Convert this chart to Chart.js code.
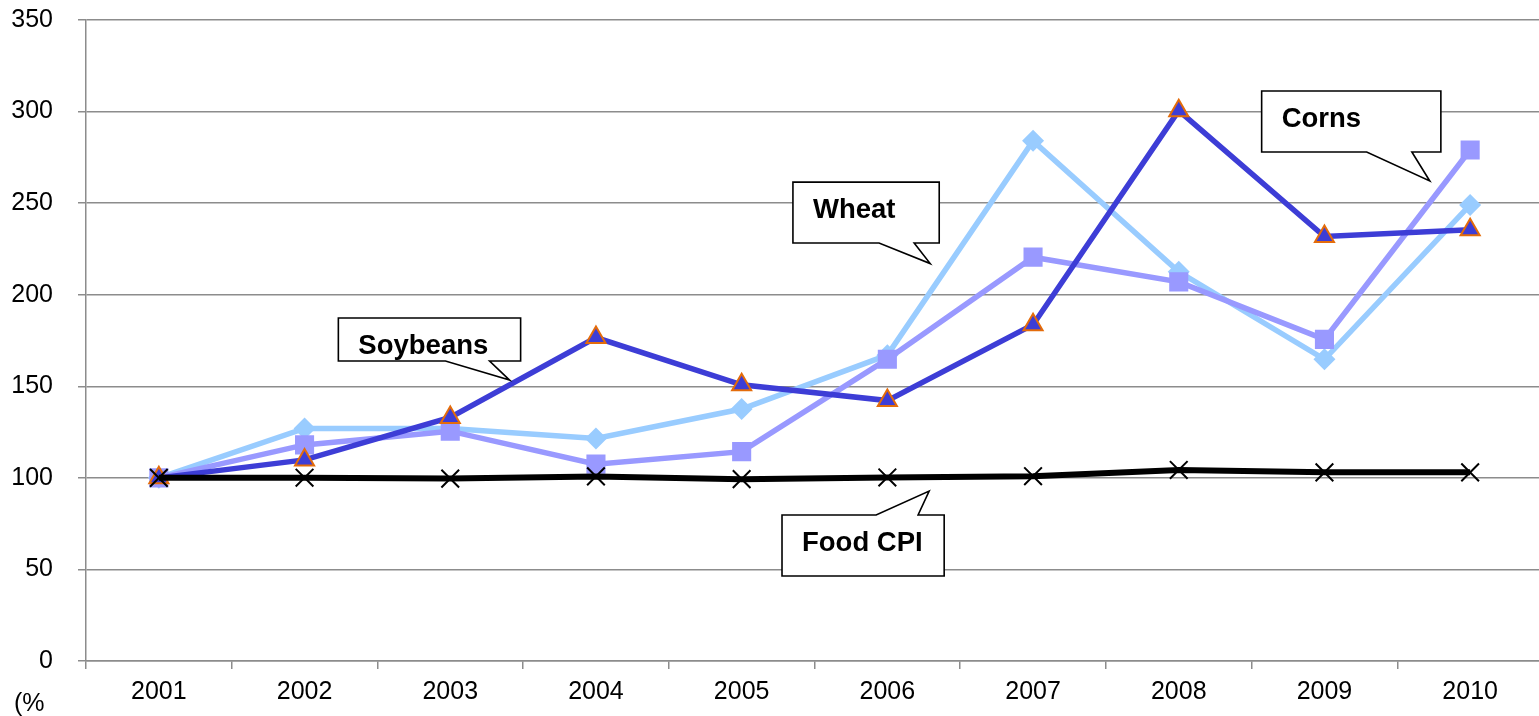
<!DOCTYPE html>
<html>
<head>
<meta charset="utf-8">
<script src="https://cdn.jsdelivr.net/npm/chart.js@4/dist/chart.umd.min.js"></script>
<style>
  html, body { margin: 0; padding: 0; background: #fff; overflow: hidden; }
  #wrap { width: 1539px; height: 716px; overflow: hidden; }
  canvas { display: block; }
</style>
</head>
<body>
<div id="wrap"><canvas id="c" width="1543" height="716"></canvas></div>
<script>
// Price indices, 2001 = 100
const years = ['2001', '2002', '2003', '2004', '2005', '2006', '2007', '2008', '2009', '2010'];
const wheat    = [100, 127, 127, 121.5, 137.6, 167, 284, 212.5, 164.7, 249];
const corns    = [100, 118, 125.5, 107.5, 114.3, 164.8, 220.5, 207, 175.6, 279];
const soybeans = [100, 109.8, 133, 176.6, 150.8, 142.2, 183.6, 300.5, 231.8, 235.5];
const foodCpi  = [100, 100.1, 99.6, 100.8, 99.3, 100.2, 100.9, 104.3, 103, 103];
const yTicks   = [0, 50, 100, 150, 200, 250, 300, 350];
const unitLabel = '(%';

// Speech-bubble labels: box corners and pointer in axis units (category index, value)
const callouts = [
  { text: 'Soybeans', box: [1.232, 187.3, 2.483, 163.8], base: [1.967, 2.270], tip: [2.407, 153.4] },
  { text: 'Wheat',    box: [4.352, 261.5, 5.356, 228.2], base: [4.943, 5.184], tip: [5.294, 217.0] },
  { text: 'Corns',    box: [7.569, 311.2, 8.799, 277.9], base: [8.290, 8.600], tip: [8.723, 262.1] },
  { text: 'Food CPI', box: [4.277, 79.7, 5.390, 46.4],   base: [4.923, 5.211], tip: [5.287, 92.8] }
];

const FONT = "'Liberation Sans', Arial, sans-serif";
const GRID = '#8c8c8c';

const calloutPlugin = {
  id: 'callouts',
  afterDatasetsDraw(chart) {
    const ctx = chart.ctx;
    const xs = chart.scales.x, ys = chart.scales.y;
    ctx.save();
    callouts.forEach(c => {
      const l = xs.getPixelForValue(c.box[0]);
      const t = ys.getPixelForValue(c.box[1]);
      const r = xs.getPixelForValue(c.box[2]);
      const b = ys.getPixelForValue(c.box[3]);
      const b1 = xs.getPixelForValue(c.base[0]);
      const b2 = xs.getPixelForValue(c.base[1]);
      const tx = xs.getPixelForValue(c.tip[0]);
      const ty = ys.getPixelForValue(c.tip[1]);
      ctx.beginPath();
      ctx.moveTo(l, t);
      if (ty < t) {
        // pointer leaves from the top edge
        ctx.lineTo(b1, t); ctx.lineTo(tx, ty); ctx.lineTo(b2, t);
        ctx.lineTo(r, t); ctx.lineTo(r, b); ctx.lineTo(l, b);
      } else {
        // pointer leaves from the bottom edge
        ctx.lineTo(r, t); ctx.lineTo(r, b);
        ctx.lineTo(b2, b); ctx.lineTo(tx, ty); ctx.lineTo(b1, b);
        ctx.lineTo(l, b);
      }
      ctx.closePath();
      ctx.fillStyle = '#ffffff';
      ctx.fill();
      ctx.lineWidth = 1.6;
      ctx.strokeStyle = '#000000';
      ctx.lineJoin = 'miter';
      ctx.stroke();
      ctx.fillStyle = '#000000';
      ctx.font = 'bold 27.5px ' + FONT;
      ctx.textAlign = 'left';
      ctx.textBaseline = 'alphabetic';
      ctx.fillText(c.text, l + 20, t + 36);
    });
    // unit label under the value axis
    ctx.font = '25px ' + FONT;
    ctx.fillStyle = '#000000';
    ctx.textAlign = 'left';
    ctx.textBaseline = 'alphabetic';
    ctx.fillText(unitLabel, 14, 711);
    ctx.restore();
  }
};

new Chart(document.getElementById('c'), {
  type: 'line',
  data: {
    labels: years,
    datasets: [
      {
        label: 'Food CPI', data: foodCpi,
        borderColor: '#000000', borderWidth: 6,
        pointStyle: 'crossRot', pointRadius: 12.5, pointBorderColor: '#000000',
        pointBorderWidth: 2, pointBackgroundColor: '#000000'
      },
      {
        label: 'Soybeans', data: soybeans,
        borderColor: '#3d3dd6', borderWidth: 5.5,
        pointStyle: 'triangle', pointRadius: 11, pointBackgroundColor: '#3d3dd6',
        pointBorderColor: '#e46c0a', pointBorderWidth: 2
      },
      {
        label: 'Corns', data: corns,
        borderColor: '#9999ff', borderWidth: 5.5,
        pointStyle: 'rect', pointRadius: 13.5, pointBackgroundColor: '#9999ff',
        pointBorderColor: '#9999ff', pointBorderWidth: 0
      },
      {
        label: 'Wheat', data: wheat,
        borderColor: '#99ccff', borderWidth: 5.5,
        pointStyle: 'rectRot', pointRadius: 11, pointBackgroundColor: '#99ccff',
        pointBorderColor: '#99ccff', pointBorderWidth: 0
      }
    ]
  },
  options: {
    responsive: false,
    animation: false,
    events: [],
    layout: { autoPadding: false, padding: { top: 20, left: 0, right: 0, bottom: 0 } },
    plugins: { legend: { display: false }, tooltip: { enabled: false } },
    elements: { line: { tension: 0 } },
    scales: {
      x: {
        type: 'category',
        offset: true,
        grid: { display: true, drawOnChartArea: false, offset: true, tickLength: 8, color: GRID, lineWidth: 1.5 },
        border: { display: true, color: GRID, width: 1.5 },
        ticks: { color: '#000000', font: { family: FONT, size: 25 }, padding: 8, maxRotation: 0, autoSkip: false },
        afterFit(scale) {
          scale.height = 55;
          scale.paddingLeft = 0;
          scale.paddingRight = 0;
        }
      },
      y: {
        min: 0, max: 350,
        afterBuildTicks(scale) { scale.ticks = yTicks.map(v => ({ value: v })); },
        grid: { color: GRID, lineWidth: 1.5, tickLength: 8 },
        border: { display: true, color: GRID, width: 1.5 },
        ticks: { color: '#000000', font: { family: FONT, size: 25 }, padding: 25 },
        afterFit(scale) {
          scale.width = 86;
          scale.paddingTop = 0;
          scale.paddingBottom = 0;
        }
      }
    }
  },
  plugins: [calloutPlugin]
});
</script>
</body>
</html>
